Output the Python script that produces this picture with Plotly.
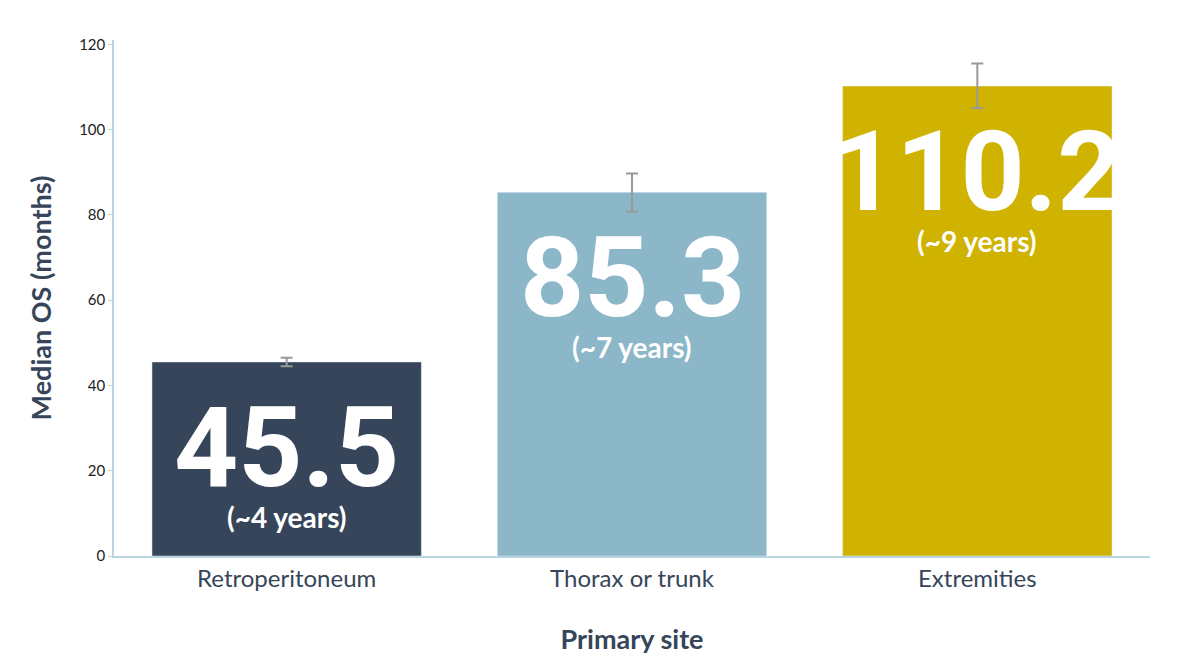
import plotly.graph_objects as go

categories = ["Retroperitoneum", "Thorax or trunk", "Extremities"]
values = [45.5, 85.3, 110.2]
err_plus = [1.0, 4.4, 5.3]
err_minus = [1.0, 4.5, 5.2]
years = ["(~4 years)", "(~7 years)", "(~9 years)"]
colors = ["#364559", "#8bb7c9", "#cfb300"]

fig = go.Figure(go.Bar(
    x=categories, y=values, marker_color=colors, width=0.78,
    error_y=dict(type="data", array=err_plus, arrayminus=err_minus,
                 color="#999999", thickness=2, width=6),
))
for c, v, yr in zip(categories, values, years):
    fig.add_annotation(x=c, y=v, yanchor="top", yshift=-18, showarrow=False,
                       text=f"<b>{v}</b>",
                       font=dict(family="Roboto", size=112, color="white"))
    fig.add_annotation(x=c, y=v, yanchor="top", yshift=-136, showarrow=False,
                       text=f"<b>{yr}</b>",
                       font=dict(family="Lato", size=28, color="white"))

fig.update_layout(
    width=1184, height=666, plot_bgcolor="white", paper_bgcolor="white",
    margin=dict(l=106, r=42, t=32, b=118), showlegend=False,
    font=dict(family="Lato", color="#364559"),
    xaxis=dict(title=dict(text="<b>Primary site</b>", font=dict(size=27), standoff=40),
               tickfont=dict(size=24), showline=True, linecolor="#b8d4de", linewidth=1.5,
               ticks=""),
    yaxis=dict(title=dict(text="<b>Median OS (months)</b>", font=dict(size=27), standoff=20),
               range=[0, 121], tickvals=[0, 20, 40, 60, 80, 100, 120], tickfont=dict(size=15, color="#222"),
               showline=True, linecolor="#b8d4de", linewidth=1.5, showgrid=False, zeroline=False,
               ticks="outside", ticklen=4, tickcolor="#b8d4de"),
)
fig.write_html("out.html")
